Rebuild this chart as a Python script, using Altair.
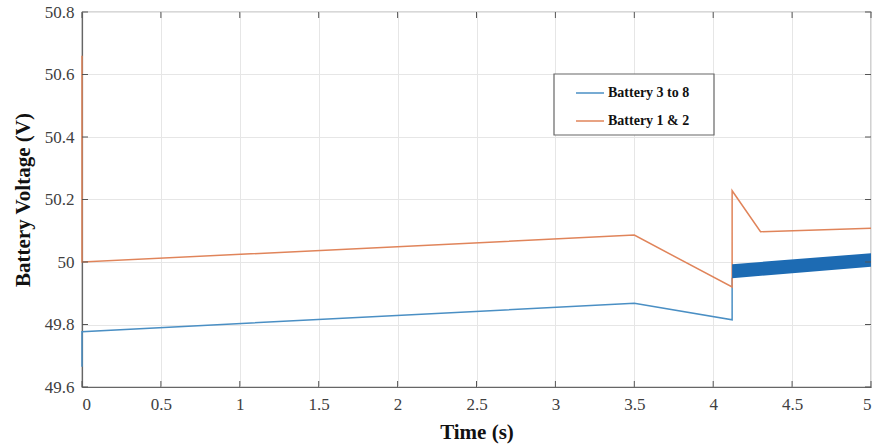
import altair as alt
import pandas as pd

# ---- data ----
series = ["Battery 3 to 8", "Battery 1 & 2"]
colors = ["#4a8fc4", "#e0845a"]

time_b = [0.0, 0.0, 3.5, 4.12, 4.12]
volt_b = [49.665, 49.777, 49.868, 49.815, 49.95]

time_o = [0.0, 0.0, 3.5, 4.12, 4.12, 4.3, 5.0]
volt_o = [50.66, 50.0, 50.086, 49.92, 50.228, 50.097, 50.108]

band_t = [4.12, 5.0]
band_lo = [49.948, 49.985]
band_hi = [49.993, 50.028]

x_ticks = [0, 0.5, 1, 1.5, 2, 2.5, 3, 3.5, 4, 4.5, 5]
y_ticks = [49.6, 49.8, 50.0, 50.2, 50.4, 50.6, 50.8]

W, H = 789, 375
FONT = "Liberation Serif"
LABEL_FONT = "'Liberation Serif', 'Times New Roman', 'DejaVu Serif', serif"

lines = pd.concat([
    pd.DataFrame({"t": time_b, "v": volt_b, "series": series[0], "i": range(len(time_b))}),
    pd.DataFrame({"t": time_o, "v": volt_o, "series": series[1], "i": range(len(time_o))}),
])
band = pd.DataFrame({"t": band_t, "lo": band_lo, "hi": band_hi})

xs = alt.Scale(domain=[0, 5], nice=False, zero=False)
ys = alt.Scale(domain=[49.6, 50.8], nice=False, zero=False)

x_axis = alt.Axis(values=x_ticks, format="~g", title="Time (s)", grid=True,
                  tickSize=0, labelPadding=9, titlePadding=9, titleFontSize=21,
                  labelFont=LABEL_FONT, labelFontSize=17, labelColor="#404040")
y_axis = alt.Axis(values=y_ticks, format="~g", title="Battery Voltage (V)", grid=True,
                  tickSize=0, labelPadding=8, titlePadding=11, titleFontSize=21,
                  labelFont=LABEL_FONT, labelFontSize=17, labelColor="#404040")

X = lambda f: alt.X(f, scale=xs, axis=x_axis)
Y = lambda f: alt.Y(f, scale=ys, axis=y_axis)

line_layer = alt.Chart(lines).mark_line(strokeWidth=1.5).encode(
    x=X("t:Q"),
    y=Y("v:Q"),
    color=alt.Color("series:N", scale=alt.Scale(domain=series, range=colors),
                    legend=alt.Legend(
                        title=None, orient="none", legendX=493, legendY=66,
                        padding=0, strokeColor="transparent",
                        symbolType="stroke", symbolSize=784, symbolStrokeWidth=1.5,
                        labelFont=FONT, labelFontWeight="bold", labelFontSize=14,
                        labelColor="#111111", rowPadding=6, labelOffset=3)),
    detail="series:N",
    order="i:Q",
)

band_layer = alt.Chart(band).mark_area(color="#1d6bb3", opacity=1).encode(
    x=X("t:Q"),
    y=Y("lo:Q"),
    y2="hi:Q",
)

# legend box
box = alt.Chart(pd.DataFrame({"k": [0]})).mark_rect(
    fill="white", stroke="#666666", strokeWidth=1.2
).encode(x=alt.value(472), x2=alt.value(632), y=alt.value(62), y2=alt.value(123))

# inward ticks on all four sides (MATLAB style)
xt = pd.DataFrame({"t": x_ticks})
yt = pd.DataFrame({"v": y_ticks})
tick_style = dict(color="#555555", strokeWidth=1)
xb = alt.Chart(xt).mark_rule(**tick_style).encode(x=X("t:Q"), y=alt.value(H), y2=alt.value(H - 6))
xtop = alt.Chart(xt).mark_rule(**tick_style).encode(x=X("t:Q"), y=alt.value(0), y2=alt.value(6))
yl = alt.Chart(yt).mark_rule(**tick_style).encode(y=Y("v:Q"), x=alt.value(0), x2=alt.value(6))
yr = alt.Chart(yt).mark_rule(**tick_style).encode(y=Y("v:Q"), x=alt.value(W), x2=alt.value(W - 6))

chart = alt.layer(line_layer, band_layer, box, xb, xtop, yl, yr).properties(
    width=W, height=H,
    autosize=alt.AutoSizeParams(type="none"),
    padding={"left": 82, "top": 12, "right": 6, "bottom": 58},
).configure_view(
    stroke="#666666", strokeWidth=1.2
).configure_axis(
    labelFont=LABEL_FONT, labelFontSize=17, labelColor="#404040",
    titleFont=FONT, titleFontWeight="bold", titleColor="#111111",
    gridColor="#e6e6e6", gridWidth=1, domainColor="#666666", domainWidth=1.2,
)

chart.save("out.html", embed_options={"renderer": "svg", "actions": False})
